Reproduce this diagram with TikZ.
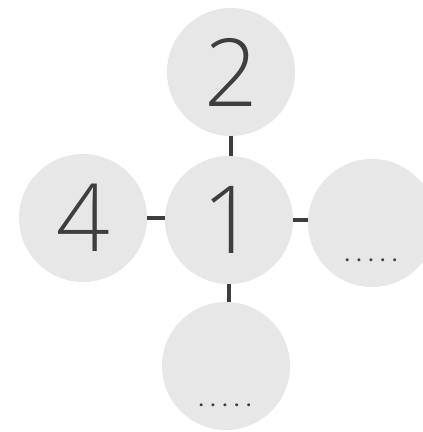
\documentclass[tikz,border=0pt]{standalone}
\usepackage{fontspec}
\setmainfont{Open Sans}[UprightFont=* Light]
\newfontfamily\dotface{Open Sans}[UprightFont=* Bold]
\definecolor{disc}{RGB}{231,231,231}
\definecolor{ink}{RGB}{62,62,62}
\begin{document}
\begin{tikzpicture}[x=1pt,y=-1pt,
  bubble/.style={circle,fill=disc,minimum size=128pt,inner sep=0pt,text=ink,font=\fontsize{94}{94}\selectfont},
  link/.style={draw=ink,line width=4.5pt},
  blank/.style={text=ink,inner sep=0pt,font=\dotface\fontsize{17}{17}\selectfont}]
\useasboundingbox (0,0) rectangle (423,432);
\node[bubble] (c2) at (231,72) {2};
\node[bubble] (c1) at (229,220) {1};
\node[bubble] (c4) at (83,218) {4};
\node[bubble] (c3) at (372,223) {};
\node[bubble] (c5) at (226,366) {};
\node[blank] (d3) at (371,260) {.\kern7pt.\kern7pt.\kern7pt.\kern7pt.};
\node[blank] (d5) at (225,405) {.\kern7pt.\kern7pt.\kern7pt.\kern7pt.};
\draw[link] (c2.south) -- (c2.south |- c1.north);
\draw[link] (c4.east) -- (c4.east -| c1.west);
\draw[link] (c1.east) -- (c1.east -| c3.west);
\draw[link] (c5.north -| c1.south) -- (c1.south);
\end{tikzpicture}
\end{document}
